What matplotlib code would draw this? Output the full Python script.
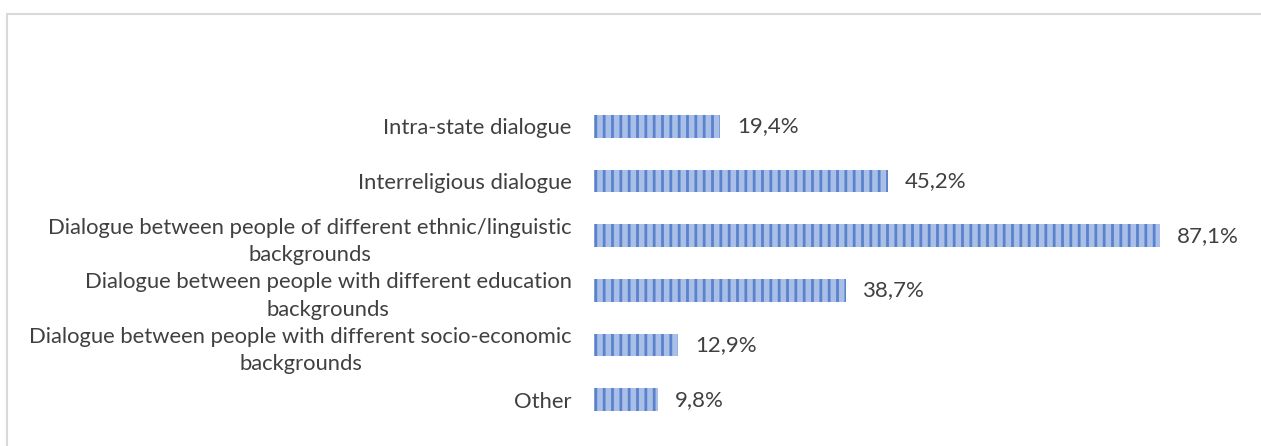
import matplotlib.pyplot as plt
from matplotlib.patches import Rectangle

# Share of respondents per type of dialogue
categories = [
    'Intra-state dialogue',
    'Interreligious dialogue',
    'Dialogue between people of different ethnic/linguistic\nbackgrounds',
    'Dialogue between people with different education\nbackgrounds',
    'Dialogue between people with different socio-economic\nbackgrounds',
    'Other',
]
values = [19.4, 45.2, 87.1, 38.7, 12.9, 9.8]
value_labels = ['19,4%', '45,2%', '87,1%', '38,7%', '12,9%', '9,8%']

plt.rcParams['font.family'] = ['Lato', 'DejaVu Sans']
plt.rcParams['hatch.linewidth'] = 2.0
plt.rcParams['hatch.color'] = '#4a73c4'
text_color = '#404040'

fig = plt.figure(figsize=(12.61, 4.46), dpi=100)
ax = fig.add_axes([594 / 1261, 1 - 427 / 446, 650 / 1261, 328 / 446])

# light frame around the chart area
fig.patches.append(Rectangle((7 / 1261, -0.1), 1.1, 1 - 14 / 446 + 0.1,
                             transform=fig.transFigure, fill=False,
                             edgecolor='#d9d9d9', linewidth=1.5))

pos = list(range(len(categories)))
bars = ax.barh(pos, values, height=0.42, color='#a9bfe8',
               hatch='||', edgecolor='#5b82cc', linewidth=0)

for bar, lbl in zip(bars, value_labels):
    ax.text(bar.get_width() + 2.6, bar.get_y() + bar.get_height() / 2, lbl,
            va='center', ha='left', fontsize=16, color=text_color)

ax.set_yticks(pos)
ax.set_yticklabels(categories, fontsize=15.8, color=text_color,
                   multialignment='center', linespacing=1.45)
ax.tick_params(axis='y', length=0, pad=16)
ax.set_ylim(len(categories) - 0.5, -0.5)
ax.set_xlim(0, 100)
ax.set_xticks([])
for s in ax.spines.values():
    s.set_visible(False)

fig.savefig('out.png', dpi=100)
